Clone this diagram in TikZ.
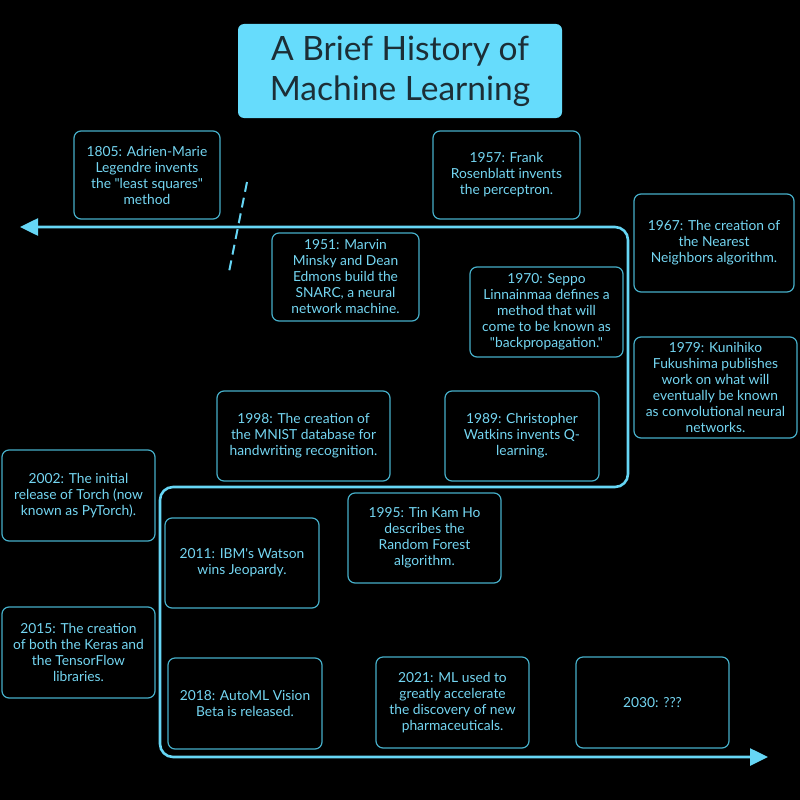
\documentclass[tikz,border=0pt]{standalone}
\usepackage{fontspec}
\setmainfont{Lato}[Ligatures=TeXOff]
\usetikzlibrary{arrows.meta}
\definecolor{linecyan}{HTML}{66D6F5}
\definecolor{boxline}{HTML}{46AFC9}
\definecolor{txtcyan}{HTML}{74D6F2}
\definecolor{titlefill}{HTML}{66DCFC}
\definecolor{titletxt}{HTML}{1C2E36}
\tikzset{
  ev/.style={draw=boxline, line width=1.2pt, rounded corners=7pt, text=txtcyan,
    align=center, inner sep=0pt, font=\fontsize{13.8}{16}\selectfont},
  titlebox/.style={fill=titlefill, draw=none, rounded corners=6pt, text=titletxt,
    align=center, inner sep=0pt, font=\fontsize{33.5}{40}\selectfont},
  tline/.style={draw=linecyan, line width=2.6pt, rounded corners=13pt},
  brk/.style={draw=linecyan, line width=2pt, dash pattern=on 10pt off 6pt}
}
\begin{document}
\begin{tikzpicture}[x=1pt,y=-1pt]
\fill[black] (0,0) rectangle (800,800);
\useasboundingbox (0,0) rectangle (800,800);

\node[titlebox, minimum width=324pt, minimum height=94pt] (title) at (400,71) {A Brief History of\\Machine Learning};

\coordinate (ts) at (20,227);
\coordinate (c1) at (628,227);
\coordinate (c2) at (628,487);
\coordinate (c3) at (160,487);
\coordinate (c4) at (160,757);
\coordinate (te) at (768,757);
\draw[tline, {Triangle[length=18pt,width=17pt]}-{Triangle[length=18pt,width=17pt]}] (ts) -- (c1) -- (c2) -- (c3) -- (c4) -- (te);

\coordinate (b1) at (247,182);
\coordinate (b2) at (229,272);
\draw[brk] (b1) -- (b2);

\node[ev, minimum width=146pt, minimum height=88pt] (e1805) at (147,175) {1805: Adrien-Marie\\Legendre invents\\the "least squares"\\method};
\node[ev, minimum width=147pt, minimum height=88pt] (e1957) at (506.5,175) {1957: Frank\\Rosenblatt invents\\the perceptron.};
\node[ev, minimum width=160pt, minimum height=98pt] (e1967) at (714,243) {1967: The creation of\\the Nearest\\Neighbors algorithm.};
\node[ev, minimum width=147pt, minimum height=88pt] (e1951) at (345.5,277) {1951: Marvin\\Minsky and Dean\\Edmons build the\\SNARC, a neural\\network machine.};
\node[ev, minimum width=153pt, minimum height=90pt] (e1970) at (546.5,312) {1970: Seppo\\Linnainmaa defines a\\method that will\\come to be known as\\"backpropagation."};
\node[ev, minimum width=163pt, minimum height=101pt] (e1979) at (715.5,387.5) {1979: Kunihiko\\Fukushima publishes\\work on what will\\eventually be known\\as convolutional neural\\networks.};
\node[ev, minimum width=173pt, minimum height=90pt] (e1998) at (303.5,436) {1998: The creation of\\the MNIST database for\\handwriting recognition.};
\node[ev, minimum width=154pt, minimum height=90pt] (e1989) at (522,436) {1989: Christopher\\Watkins invents Q-\\learning.};
\node[ev, minimum width=153pt, minimum height=91pt] (e2002) at (78.5,495.5) {2002: The initial\\release of Torch (now\\known as PyTorch).};
\node[ev, minimum width=153pt, minimum height=90pt] (e1995) at (424.5,538) {1995: Tin Kam Ho\\describes the\\Random Forest\\algorithm.};
\node[ev, minimum width=154pt, minimum height=90pt] (e2011) at (242,563) {2011: IBM's Watson\\wins Jeopardy.};
\node[ev, minimum width=153pt, minimum height=91pt] (e2015) at (78.5,652.5) {2015: The creation\\of both the Keras and\\the TensorFlow\\libraries.};
\node[ev, minimum width=154pt, minimum height=91pt] (e2018) at (245,703.5) {2018: AutoML Vision\\Beta is released.};
\node[ev, minimum width=153pt, minimum height=91pt] (e2021) at (452.5,702.5) {2021: ML used to\\greatly accelerate\\the discovery of new\\pharmaceuticals.};
\node[ev, minimum width=153pt, minimum height=91pt] (e2030) at (652.5,702.5) {2030: ???};
\end{tikzpicture}
\end{document}
